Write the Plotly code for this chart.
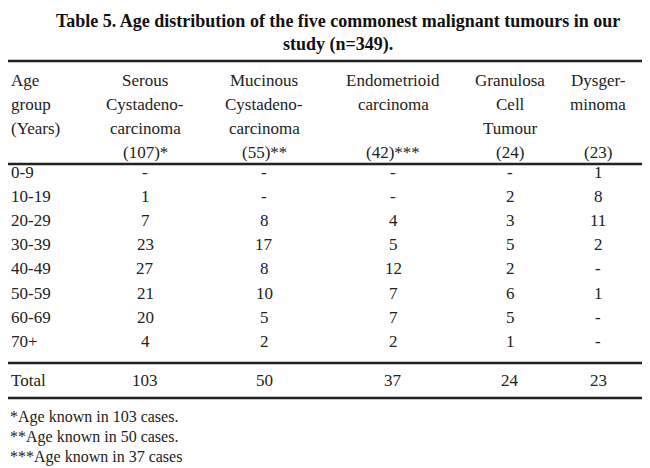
import plotly.graph_objects as go

title_lines = ["Table 5. Age distribution of the five commonest malignant tumours in our",
               "study (n=349)."]
age_groups = ["0-9", "10-19", "20-29", "30-39", "40-49", "50-59", "60-69", "70+"]
columns = [
    ["Serous", "Cystadeno-", "carcinoma", "(107)*"],
    ["Mucinous", "Cystadeno-", "carcinoma", "(55)**"],
    ["Endometrioid", "carcinoma", "", "(42)***"],
    ["Granulosa", "Cell", "Tumour", "(24)"],
    ["Dysger-", "minoma", "", "(23)"],
]
serous = ["-", "1", "7", "23", "27", "21", "20", "4"]
mucinous = ["-", "-", "8", "17", "8", "10", "5", "2"]
endometrioid = ["-", "-", "4", "5", "12", "7", "7", "2"]
granulosa = ["-", "2", "3", "5", "2", "6", "5", "1"]
dysgerminoma = ["1", "8", "11", "2", "-", "1", "-", "-"]
totals = ["103", "50", "37", "24", "23"]
footnotes = ["*Age known in 103 cases.", "**Age known in 50 cases.", "***Age known in 37 cases"]

FONT = dict(family="Liberation Serif", size=17, color="#222")
col_x = [137, 256, 385, 502, 590]
row_y = [164, 188, 212, 236, 260, 285, 309, 333]
header_y = [72, 96, 120, 144]

fig = go.Figure()
ann = []

def text(x, y, s, anchor="center", **kw):
    ann.append(dict(x=x, y=y, text=s, showarrow=False, xanchor=anchor,
                    yanchor="middle", font=kw.get("font", FONT)))

bold = dict(family="Liberation Serif", size=18, color="#111")
text(330, 13, "<b>" + title_lines[0] + "</b>", font=bold)
text(330, 36, "<b>" + title_lines[1] + "</b>", font=bold)

for y, s in zip(header_y, ["Age", "group", "(Years)", ""]):
    text(1, y, s, "left")
for x, lines in zip(col_x, columns):
    for y, s in zip(header_y, lines):
        if s:
            text(x, y, s)

series = [serous, mucinous, endometrioid, granulosa, dysgerminoma]
for i, g in enumerate(age_groups):
    text(1, row_y[i], g, "left")
    for x, vals in zip(col_x, series):
        text(x, row_y[i], vals[i])

text(1, 372, "Total", "left")
for x, t in zip(col_x, totals):
    text(x, 372, t)

for y, s in zip([409, 429, 449], footnotes):
    text(0, y, s, "left", font=dict(family="Liberation Serif", size=16, color="#222"))

shapes = [dict(type="line", x0=0, x1=650, y0=y, y1=y, line=dict(color="#222", width=w))
          for y, w in [(53, 2.5), (156, 2.5), (355, 2.5), (390, 2.5)]]

fig.update_layout(
    width=650, height=468, margin=dict(l=0, r=0, t=0, b=0),
    paper_bgcolor="white", plot_bgcolor="white",
    xaxis=dict(range=[0, 650], visible=False, fixedrange=True),
    yaxis=dict(range=[468, 0], visible=False, fixedrange=True),
    annotations=ann, shapes=shapes, showlegend=False,
)
fig.write_html("out.html")
